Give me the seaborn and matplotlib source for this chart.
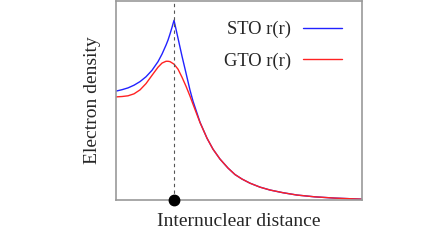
#!/usr/bin/env python3

import pandas as pd
import seaborn as sns
import matplotlib as mpl
import matplotlib.pyplot as plt

sns.set_theme(style="white")
mpl.rcParams["font.family"] = ["Liberation Serif", "DejaVu Serif"]
mpl.rcParams["figure.dpi"] = 100

# distance along the internuclear axis (arbitrary units), nucleus at 58
nucleus = 58
dist = [0, 6, 12, 18, 24, 30, 36, 42, 46, 50, 52, 54, 56,
        58, 62, 66, 70, 74, 77, 80, 84, 91, 97, 104, 112, 119, 126,
        134, 144, 154, 167, 181, 199, 219, 246]

# electron density, normalised to the STO cusp
sto = [0.606, 0.614, 0.624, 0.639, 0.659, 0.686, 0.722, 0.770, 0.812,
       0.862, 0.890, 0.924, 0.961,
       1.000, 0.900, 0.800, 0.706, 0.611, 0.550, 0.500, 0.433, 0.344,
       0.283, 0.228, 0.178, 0.142, 0.117, 0.094, 0.072, 0.056, 0.041,
       0.028, 0.018, 0.011, 0.005]
gto = [0.574, 0.576, 0.580, 0.591, 0.613, 0.648, 0.694, 0.739, 0.762,
       0.772, 0.772, 0.770, 0.763,
       0.756, 0.728, 0.683, 0.633, 0.578, 0.533, 0.489, 0.431, 0.344,
       0.283, 0.228, 0.178, 0.142, 0.117, 0.094, 0.072, 0.056, 0.041,
       0.028, 0.018, 0.011, 0.005]

labels = ["STO r(r)", "GTO r(r)"]
colors = ["#2222ff", "#ff2222"]

df = pd.concat([
    pd.DataFrame({"x": dist, "y": sto, "orbital": labels[0]}),
    pd.DataFrame({"x": dist, "y": gto, "orbital": labels[1]}),
])

fig = plt.figure(figsize=(4.48, 2.52))
ax = fig.add_axes([0.259, 0.206, 0.549, 0.792])

sns.lineplot(data=df, x="x", y="y", hue="orbital", palette=colors,
             linewidth=1.0, ax=ax, sort=False)

ax.axvline(nucleus, color="#555555", linestyle=(0, (3, 3)), linewidth=0.8)
ax.plot([nucleus], [0], "o", color="black", markersize=7.5, clip_on=False,
        zorder=5)

ax.set_xlim(0, 246)
ax.set_ylim(0, 1.11)
ax.set_xticks([])
ax.set_yticks([])
ax.set_xlabel("Internuclear distance", fontsize=14, labelpad=9)
ax.set_ylabel("Electron density", fontsize=14, labelpad=11)
for s in ax.spines.values():
    s.set_color("#999999")
    s.set_linewidth(1.2)

ax.legend(loc="center right", bbox_to_anchor=(0.949, 0.775), frameon=False,
          fontsize=13.3, markerfirst=False, handlelength=2.1,
          handletextpad=0.65, labelspacing=0.78, borderaxespad=0)

plt.savefig("out.png", dpi=100)
